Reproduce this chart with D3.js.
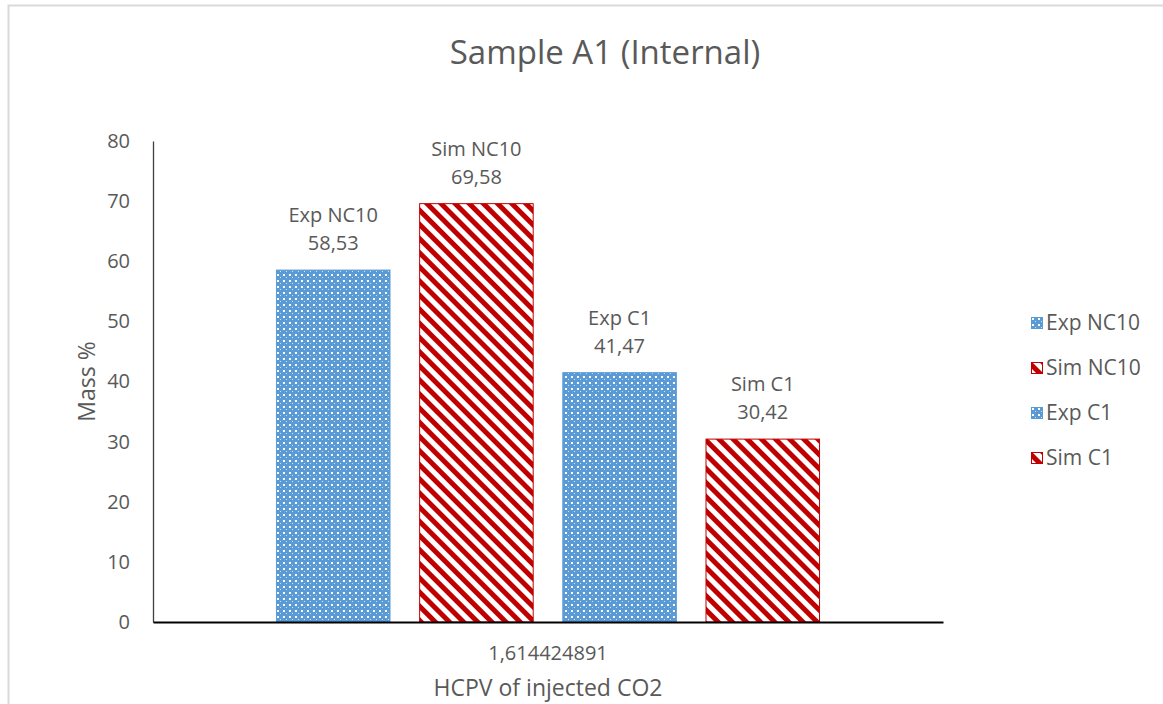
<!DOCTYPE html>
<html>
<head>
<meta charset="utf-8">
<script src="https://cdn.jsdelivr.net/npm/d3@7"></script>
<style>
  body { margin: 0; background: #fff; }
  svg text { font-family: "Open Sans", "Noto Sans", sans-serif; fill: #595959; }
</style>
</head>
<body>
<svg id="chart" width="1163" height="704"></svg>
<script>
// ── Data ────────────────────────────────────────────────────────────────────
const CATEGORY = "1,614424891";
const SERIES   = ["Exp NC10", "Sim NC10", "Exp C1", "Sim C1"];
const VALUES   = [58.53, 69.58, 41.47, 30.42];
const LABELS   = ["58,53", "69,58", "41,47", "30,42"];
const KINDS    = ["exp", "sim", "exp", "sim"];
const Y_TICKS  = [0, 10, 20, 30, 40, 50, 60, 70, 80];

const svg = d3.select("#chart");
const M = { top: 141, right: 220, bottom: 82, left: 153 };
const VW = 1163, VH = 704;
const W = VW - M.left - M.right;
const H = VH - M.top - M.bottom;

// chart frame
svg.append("path")
  .attr("d", `M8.5,${VH} V5.5 H${VW}`)
  .attr("fill", "none").attr("stroke", "#d9d9d9").attr("stroke-width", 2);

// ── Patterns ────────────────────────────────────────────────────────────────
const defs = svg.append("defs");
const dots = defs.append("pattern").attr("id", "pat-exp")
  .attr("patternUnits", "userSpaceOnUse").attr("width", 6).attr("height", 6);
dots.append("rect").attr("width", 6).attr("height", 6).attr("fill", "#5b9bd5");
dots.append("rect").attr("x", 1).attr("y", 1).attr("width", 2).attr("height", 2).attr("fill", "#fff");
dots.append("rect").attr("x", 4).attr("y", 4).attr("width", 1).attr("height", 1).attr("fill", "#d6e5f5");

const stripes = defs.append("pattern").attr("id", "pat-sim")
  .attr("patternUnits", "userSpaceOnUse").attr("width", 10).attr("height", 10)
  .attr("patternTransform", "rotate(-45)");
stripes.append("rect").attr("width", 10).attr("height", 10).attr("fill", "#fff");
stripes.append("rect").attr("width", 5).attr("height", 10).attr("fill", "#c00000");

const FILL   = { exp: "url(#pat-exp)", sim: "url(#pat-sim)" };
const STROKE = { exp: "#5b9bd5", sim: "#c00000" };

// ── Scales ──────────────────────────────────────────────────────────────────
const g = svg.append("g").attr("transform", `translate(${M.left},${M.top})`);

const x0 = d3.scaleBand().domain([CATEGORY]).range([0, W]).paddingInner(0).paddingOuter(0.226);
const x1 = d3.scaleBand().domain(SERIES).range([0, x0.bandwidth()]).paddingInner(0.2).paddingOuter(0);
const y  = d3.scaleLinear().domain([0, 80]).range([H, 0]);

// y axis
const yAxisG = g.append("g")
  .call(d3.axisLeft(y).tickValues(Y_TICKS).tickSize(0).tickPadding(23));
yAxisG.select(".domain").attr("stroke", "#404040").attr("stroke-width", 1.3);
yAxisG.selectAll("text").attr("font-size", "20px").attr("fill", "#595959")
  .style("font-family", "'Open Sans', sans-serif");

// bars
const data = SERIES.map((s, i) => ({ s, v: VALUES[i], lbl: LABELS[i], k: KINDS[i] }));
const barsG = g.append("g").attr("transform", `translate(${x0(CATEGORY)},0)`);
barsG.selectAll("rect")
  .data(data)
  .join("rect")
  .attr("x", d => x1(d.s) + 0.5)
  .attr("y", d => y(d.v))
  .attr("width", x1.bandwidth() - 1)
  .attr("height", d => H - y(d.v))
  .attr("fill", d => FILL[d.k])
  .attr("stroke", d => STROKE[d.k])
  .attr("stroke-width", 1);

// data labels
const lblG = barsG.append("g").attr("text-anchor", "middle").attr("font-size", "20px");
lblG.selectAll("text.name").data(data).join("text")
  .attr("class", "name")
  .attr("x", d => x1(d.s) + x1.bandwidth() / 2)
  .attr("y", d => y(d.v) - 48)
  .text(d => d.s);
lblG.selectAll("text.val").data(data).join("text")
  .attr("class", "val")
  .attr("x", d => x1(d.s) + x1.bandwidth() / 2)
  .attr("y", d => y(d.v) - 20)
  .text(d => d.lbl);

// x axis
const xAxisG = g.append("g").attr("transform", `translate(0,${H})`)
  .call(d3.axisBottom(x0).tickSize(0).tickPadding(24));
xAxisG.select(".domain").attr("stroke", "#000").attr("stroke-width", 2);
xAxisG.selectAll("text").attr("font-size", "20px").attr("fill", "#595959")
  .style("font-family", "'Open Sans', sans-serif");

// axis titles
svg.append("text")
  .attr("transform", `translate(95,${M.top + H / 2}) rotate(-90)`)
  .attr("text-anchor", "middle").attr("font-size", "23px")
  .text("Mass %");
svg.append("text")
  .attr("x", M.left + W / 2).attr("y", 696)
  .attr("text-anchor", "middle").attr("font-size", "23px")
  .text("HCPV of injected CO2");

// title
svg.append("text")
  .attr("x", 605).attr("y", 64)
  .attr("text-anchor", "middle").attr("font-size", "33px")
  .text("Sample A1 (Internal)");

// legend
const legG = svg.append("g").attr("transform", "translate(1031,323)");
data.forEach((d, i) => {
  const row = legG.append("g").attr("transform", `translate(0,${i * 45})`);
  row.append("rect").attr("x", 0.5).attr("y", -5.5).attr("width", 11).attr("height", 11)
    .attr("fill", FILL[d.k]).attr("stroke", STROKE[d.k]);
  row.append("text").attr("x", 15).attr("y", 0).attr("dy", "0.35em")
    .attr("font-size", "21px").text(d.s);
});
</script>
</body>
</html>
